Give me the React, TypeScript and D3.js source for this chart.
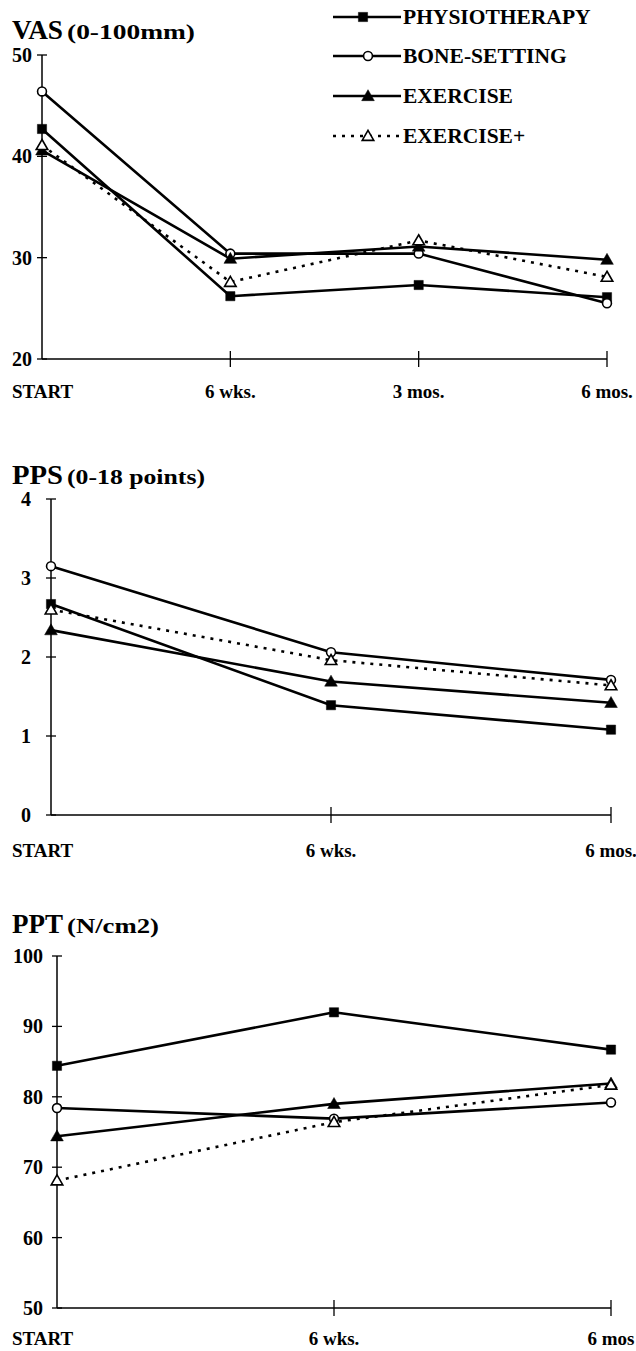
import React from "react";
import * as d3 from "d3";

// ---------- data ----------
const seriesNames = ["PHYSIOTHERAPY", "BONE-SETTING", "EXERCISE", "EXERCISE+"];

const vasLabels = ["START", "6 wks.", "3 mos.", "6 mos."];
const vasTicks = [20, 30, 40, 50];
const vasPhysio = [42.7, 26.2, 27.3, 26.1];
const vasBone = [46.4, 30.4, 30.4, 25.5];
const vasExercise = [40.6, 29.9, 31.1, 29.8];
const vasExercisePlus = [41.1, 27.6, 31.7, 28.1];

const ppsLabels = ["START", "6 wks.", "6 mos."];
const ppsTicks = [0, 1, 2, 3, 4];
const ppsPhysio = [2.67, 1.39, 1.08];
const ppsBone = [3.15, 2.06, 1.71];
const ppsExercise = [2.34, 1.69, 1.42];
const ppsExercisePlus = [2.6, 1.96, 1.64];

const pptLabels = ["START", "6 wks.", "6 mos"];
const pptTicks = [50, 60, 70, 80, 90, 100];
const pptPhysio = [84.4, 92.0, 86.7];
const pptBone = [78.4, 76.9, 79.2];
const pptExercise = [74.4, 79.0, 81.9];
const pptExercisePlus = [68.1, 76.4, 81.7];

// ---------- styles ----------
const FONT = "'Liberation Serif', 'Times New Roman', serif";
type Kind = "square" | "circle" | "triangle" | "triangleOpen";
const kinds: Kind[] = ["square", "circle", "triangle", "triangleOpen"];
const dashed = [false, false, false, true];

const symbolPath = (k: Kind) => {
  const type =
    k === "square" ? d3.symbolSquare : k === "circle" ? d3.symbolCircle : d3.symbolTriangle;
  const size = k === "square" ? 85 : k === "circle" ? 62 : k === "triangle" ? 70 : 58;
  return d3.symbol().type(type).size(size)() as string;
};

function Marker({ k, x, y }: { k: Kind; x: number; y: number }) {
  const open = k === "circle" || k === "triangleOpen";
  const dy = k === "triangle" || k === "triangleOpen" ? 1 : 0;
  return (
    <path
      d={symbolPath(k)}
      transform={`translate(${x},${y + dy})`}
      fill={open ? "#fff" : "#000"}
      stroke="#000"
      strokeWidth={open ? 1.6 : 0.5}
    />
  );
}

interface PanelCfg {
  title: string;
  sub: string;
  subWidth: number;
  titleY: number;
  labels: string[];
  ticks: number[];
  series: number[][];
  x0: number;
  x1: number;
  yTop: number;
  yBot: number;
  labelRight: number;
  xLabelY: number;
}

function Panel({ c }: { c: PanelCfg }) {
  const x = d3
    .scalePoint<string>()
    .domain(c.labels)
    .range([c.x0, c.x1]);
  const y = d3
    .scaleLinear()
    .domain([c.ticks[0], c.ticks[c.ticks.length - 1]])
    .range([c.yBot, c.yTop]);
  const line = d3
    .line<number>()
    .x((_, i) => x(c.labels[i]) as number)
    .y((v) => y(v));
  return (
    <g>
      <text x={12} y={c.titleY} fontFamily={FONT} fontWeight="bold" fontSize={28}
        textLength={51} lengthAdjust="spacingAndGlyphs">
        {c.title}
      </text>
      <text x={67} y={c.titleY} fontFamily={FONT} fontWeight="bold" fontSize={21}
        textLength={c.subWidth} lengthAdjust="spacingAndGlyphs">
        {c.sub}
      </text>
      {/* y axis */}
      <line x1={c.x0} x2={c.x0} y1={c.yTop} y2={c.yBot} stroke="#000" strokeWidth={1.5} />
      {c.ticks.map((t) => (
        <g key={t}>
          <line x1={c.x0 - 5} x2={c.x0 + 5} y1={y(t)} y2={y(t)} stroke="#000" strokeWidth={1.3} />
          <text
            x={c.labelRight}
            y={y(t) + 7}
            textAnchor="end"
            fontFamily={FONT}
            fontWeight="bold"
            fontSize={20}
          >
            {t}
          </text>
        </g>
      ))}
      {/* x axis */}
      <line x1={c.x0} x2={c.x1} y1={c.yBot} y2={c.yBot} stroke="#000" strokeWidth={1.5} />
      {c.labels.map((l, i) => (
        <g key={l}>
          {i > 0 && (
            <line
              x1={x(l) as number}
              x2={x(l) as number}
              y1={c.yBot - 8}
              y2={c.yBot + 8}
              stroke="#000"
              strokeWidth={1.3}
            />
          )}
          <text
            x={i === 0 ? 12 : (x(l) as number)}
            y={c.xLabelY}
            textAnchor={i === 0 ? "start" : "middle"}
            fontFamily={FONT}
            fontWeight="bold"
            fontSize={19}
          >
            {l}
          </text>
        </g>
      ))}
      {/* series */}
      {c.series.map((s, si) => (
        <path
          key={si}
          d={line(s) as string}
          fill="none"
          stroke="#000"
          strokeWidth={2.6}
          strokeDasharray={dashed[si] ? "3 6" : undefined}
        />
      ))}
      {c.series.map((s, si) =>
        s.map((v, i) => (
          <Marker key={`${si}-${i}`} k={kinds[si]} x={x(c.labels[i]) as number} y={y(v)} />
        ))
      )}
    </g>
  );
}

function Legend() {
  const rows = [17, 56, 96, 136];
  return (
    <g>
      {seriesNames.map((n, i) => (
        <g key={n}>
          <line
            x1={333}
            x2={401}
            y1={rows[i]}
            y2={rows[i]}
            stroke="#000"
            strokeWidth={2.4}
            strokeDasharray={dashed[i] ? "3 6" : undefined}
          />
          <Marker k={kinds[i]} x={i === 0 ? 363 : 368} y={rows[i]} />
          <text
            x={403}
            y={rows[i] + 7}
            fontFamily={FONT}
            fontWeight="bold"
            fontSize={21.5}
          >
            {n}
          </text>
        </g>
      ))}
    </g>
  );
}

export default function App() {
  const panels: PanelCfg[] = [
    {
      title: "VAS",
      sub: "(0-100mm)",
      subWidth: 128,
      titleY: 39,
      labels: vasLabels,
      ticks: vasTicks,
      series: [vasPhysio, vasBone, vasExercise, vasExercisePlus],
      x0: 42,
      x1: 607,
      yTop: 55,
      yBot: 359,
      labelRight: 32,
      xLabelY: 398,
    },
    {
      title: "PPS",
      sub: "(0-18 points)",
      subWidth: 138,
      titleY: 484,
      labels: ppsLabels,
      ticks: ppsTicks,
      series: [ppsPhysio, ppsBone, ppsExercise, ppsExercisePlus],
      x0: 51,
      x1: 611,
      yTop: 499,
      yBot: 815,
      labelRight: 31,
      xLabelY: 857,
    },
    {
      title: "PPT",
      sub: "(N/cm2)",
      subWidth: 92,
      titleY: 933,
      labels: pptLabels,
      ticks: pptTicks,
      series: [pptPhysio, pptBone, pptExercise, pptExercisePlus],
      x0: 57,
      x1: 611,
      yTop: 956,
      yBot: 1308,
      labelRight: 43,
      xLabelY: 1345,
    },
  ];
  return (
    <svg
      width={636}
      height={1351}
      style={{ position: "absolute", left: 0, top: 0, background: "#fff" }}
    >
      <rect width={636} height={1351} fill="#fff" />
      <Legend />
      {panels.map((p) => (
        <Panel key={p.title} c={p} />
      ))}
    </svg>
  );
}
